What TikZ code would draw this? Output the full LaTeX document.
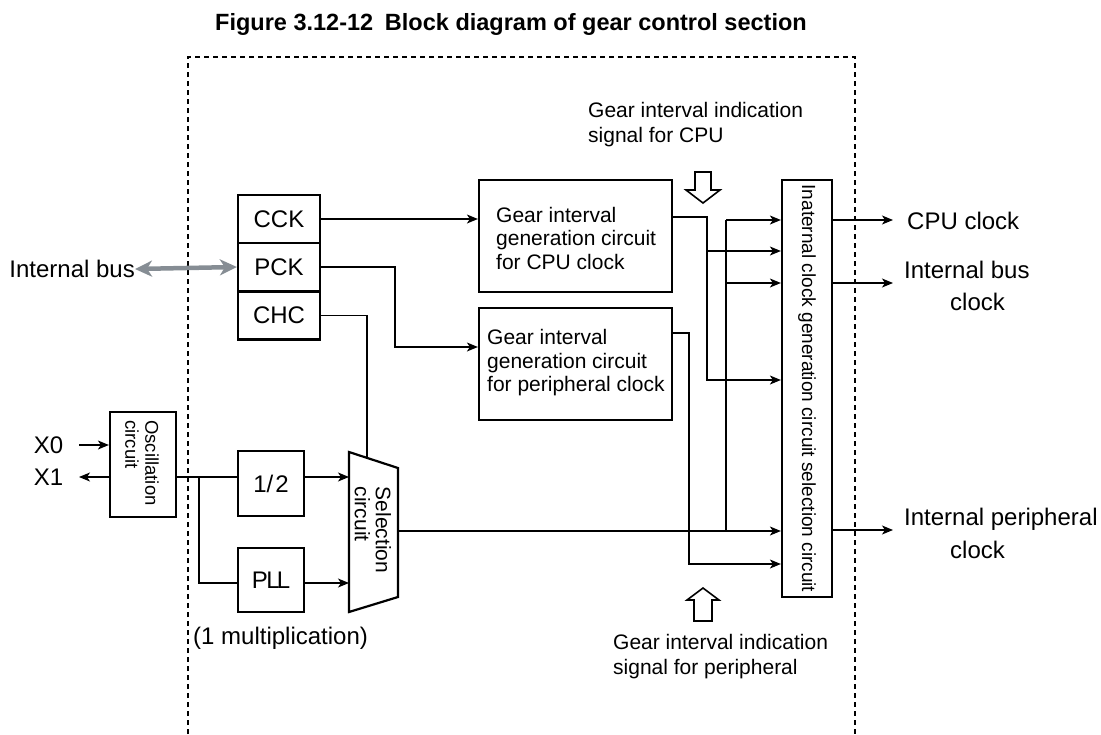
\documentclass[tikz,border=0pt]{standalone}
\usepackage{fontspec}
\setmainfont{Liberation Sans}
\usetikzlibrary{arrows.meta}
\begin{document}
\begin{tikzpicture}[x=1pt,y=-1pt,
  box/.style={draw, line width=2.2pt, inner sep=0pt},
  conn/.style={line width=1.3pt},
  arr/.style={conn, -{Stealth[length=11pt,width=9pt,inset=3pt]}},
  bus/.style={line width=4.5pt, draw={rgb,255:red,134;green,141;blue,148},
    {Stealth[length=17pt,width=16pt,inset=5pt]}-{Stealth[length=17pt,width=16pt,inset=5pt]}},
  lbl/.style={inner sep=0pt, font=\fontsize{24}{25}\selectfont},
  sml/.style={inner sep=0pt, font=\fontsize{21}{25}\selectfont, align=left},
  reg/.style={box, minimum width=82pt, minimum height=48pt, font=\fontsize{24}{27}\selectfont},
  gearbox/.style={box, minimum width=193pt, minimum height=112pt},
  geartext/.style={inner sep=0pt, anchor=west, align=left, font=\fontsize{21}{23.5}\selectfont},
  hollow/.style={line width=1.6pt, fill=white, line join=miter},
  frame/.style={line width=1.2pt, dash pattern=on 5pt off 4pt}
]
\useasboundingbox (0,0) rectangle (1101,734);

% title
\node[inner sep=0pt, font=\fontsize{23.5}{26}\selectfont\bfseries] (title) at (511,24) {Figure 3.12-12\enspace Block diagram of gear control section};

% dashed frame
\draw[frame] (188,734) -- (188,57) -- (855,57) -- (855,734);

% registers
\node[reg] (cck) at (279,219) {CCK};
\node[reg] (pck) at (279,267) {PCK};
\node[reg] (chc) at (279,315.5) {CHC};

% internal bus
\node[lbl, anchor=east] (busl) at (135,269) {Internal bus};
\draw[bus] (busl.east) -- (pck.west);

% oscillation
\node[box, minimum width=66pt, minimum height=105pt] (osc) at (143,464.5) {};
\node[inner sep=0pt, rotate=-90, align=left, font=\fontsize{18.5}{20}\selectfont] (osct) at (142,463) {Oscillation\\circuit};
\node[lbl] (x0) at (48.5,445) {X0};
\node[lbl] (x1) at (48.5,477) {X1};
\coordinate (x0e) at (79,445);
\coordinate (x1e) at (79,477);
\draw[arr] (x0e) -- (x0e -| osc.west);
\draw[arr] (x1e -| osc.west) -- (x1e);

% 1/2 and PLL
\node[box, minimum width=66pt, minimum height=65pt, font=\fontsize{24}{27}\selectfont] (half) at (271,483.5) {1/\kern2pt2};
\node[box, minimum width=66pt, minimum height=64pt, font=\fontsize{24}{27}\selectfont] (pll) at (271,580) {P\kern-1.5ptL\kern-3ptL};
\node[lbl, anchor=west] (mult) at (193,638) {(1 multiplication)};

% selection circuit (trapezoid)
\coordinate (s1) at (349,452);
\coordinate (s2) at (398,468);
\coordinate (s3) at (398,597);
\coordinate (s4) at (349,612);
\draw[line width=2.2pt, line join=miter] (s1) -- (s2) -- (s3) -- (s4) -- cycle;
\node[inner sep=0pt, rotate=-90, align=left, font=\fontsize{21}{21}\selectfont] (sel) at (373,530) {Selection\\circuit};

% oscillation output and branches
\coordinate (oo) at (176,477);
\coordinate (br) at (199,477);
\coordinate (brd) at (199,583);
\draw[conn] (oo) -- (oo -| half.west);
\draw[conn] (br) -- (brd) -- (brd -| pll.west);
\coordinate (ho) at (304,477);
\coordinate (po) at (304,583);
\draw[arr] (ho) -- (ho -| s1);
\draw[arr] (po) -- (po -| s1);

% gear interval generation circuits
\node[gearbox] (gcpu) at (575.5,236) {};
\node[geartext] (gcput) at (496,238) {Gear interval\\generation circuit\\for CPU clock};
\node[gearbox] (gper) at (575.5,364) {};
\node[geartext] (gpert) at (487,363) {Gear interval\\generation circuit\\for peripheral clock};

% register connections
\draw[arr] (cck.east) -- (cck.east -| gcpu.west);
\coordinate (p1) at (395,267);
\coordinate (p2) at (395,347);
\draw[arr] (pck.east) -- (p1) -- (p2) -- (p2 -| gper.west);
\coordinate (c1) at (367,315.5);
\coordinate (c2) at (367,458);
\draw[conn] (chc.east) -- (c1) -- (c2);

% internal clock generation circuit selection circuit
\node[box, minimum width=50pt, minimum height=417pt] (icg) at (807,388.5) {};
\node[inner sep=0pt, rotate=-90, font=\fontsize{19}{21}\selectfont] (icgt) at (807,388.5) {Inaternal clock generation circuit selection circuit};

% selection output
\coordinate (so) at (398,531);
\coordinate (sb) at (726,531);
\coordinate (sb1) at (726,220);
\coordinate (sb2) at (726,283);
\draw[arr] (so) -- (so -| icg.west);
\draw[conn] (sb) -- (sb1);
\draw[arr] (sb1) -- (sb1 -| icg.west);
\draw[arr] (sb2) -- (sb2 -| icg.west);

% gear cpu output
\coordinate (g1) at (672,217);
\coordinate (g2) at (707,217);
\coordinate (g3) at (707,380);
\coordinate (g4) at (707,251);
\draw[arr] (g1) -- (g2) -- (g3) -- (g3 -| icg.west);
\draw[arr] (g4) -- (g4 -| icg.west);

% gear peripheral output
\coordinate (q1) at (672,333);
\coordinate (q2) at (689,333);
\coordinate (q3) at (689,564);
\draw[arr] (q1) -- (q2) -- (q3) -- (q3 -| icg.west);

% hollow indication arrows
\draw[hollow] (695,172) -- (711,172) -- (711,190) -- (720,190) -- (703,203) -- (686,190) -- (695,190) -- cycle;
\draw[hollow] (694,621) -- (712,621) -- (712,600) -- (719,600) -- (703,588) -- (687,600) -- (694,600) -- cycle;
\node[sml, anchor=west] (sigcpu) at (588,124.5) {Gear interval indication\\signal for CPU};
\node[sml, anchor=west] (sigper) at (613,656.5) {Gear interval indication\\signal for peripheral};

% outputs
\coordinate (o1) at (893,220);
\coordinate (o2) at (893,283);
\coordinate (o3) at (893,530);
\draw[arr] (o1 -| icg.east) -- (o1);
\draw[arr] (o2 -| icg.east) -- (o2);
\draw[arr] (o3 -| icg.east) -- (o3);
\node[lbl, anchor=west] (cpuclk) at (907,221) {CPU clock};
\node[lbl, anchor=west, align=left, font=\fontsize{24}{32}\selectfont] (busclk) at (904,286) {Internal bus\\\hspace*{46pt}clock};
\node[lbl, anchor=west, align=left, font=\fontsize{24}{33}\selectfont] (perclk) at (904,533.5) {Internal peripheral\\\hspace*{46pt}clock};
\end{tikzpicture}
\end{document}
